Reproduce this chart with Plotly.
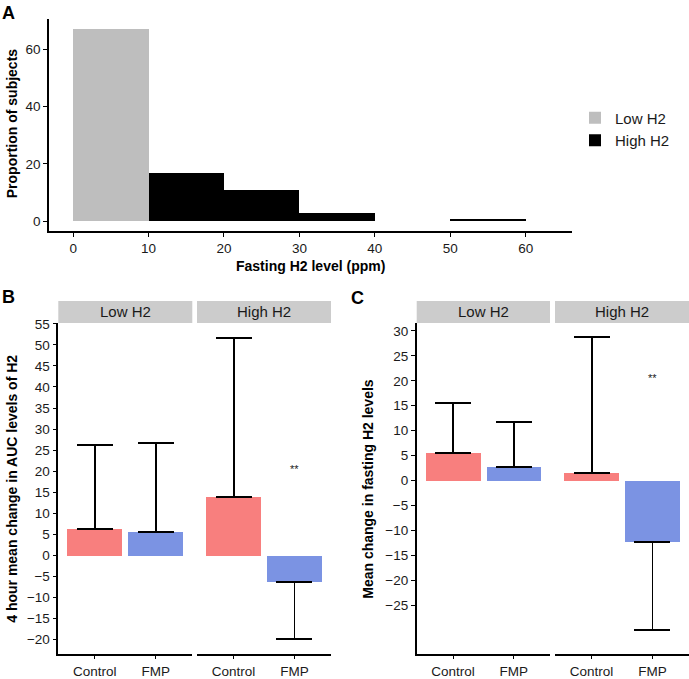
import plotly.graph_objects as go

W, H = 689, 679

# ---------------- data ----------------
# Panel A histogram (bins of 10 ppm)
hist_low_x = [5]
hist_low_y = [67.2]
hist_high_x = [15, 25, 35, 45, 55]
hist_high_y = [17, 11, 3, 0, 1]
hist_xticks = [0, 10, 20, 30, 40, 50, 60]
hist_yticks = [0, 20, 40, 60]

groups = ["Control", "FMP"]
facets = ["Low H2", "High H2"]

# Panel B: 4 hour mean change in AUC
B_low_mean = [6.2, 5.5]
B_low_sd = [20.0, 21.2]
B_high_mean = [13.9, -6.4]
B_high_sd = [37.8, 13.5]
B_yticks = list(range(-20, 56, 5))

# Panel C: mean change in fasting H2
C_low_mean = [5.6, 2.7]
C_low_sd = [9.9, 9.0]
C_high_mean = [1.5, -12.3]
C_high_sd = [27.2, 17.7]
C_yticks = list(range(-25, 31, 5))

sig_label = "**"
sig_y = 20.5

RED = "#F87F7E"
BLUE = "#7B93E3"
FONT = "Liberation Sans, Arial, sans-serif"


def px(x):
    return x / W


def py(y):
    return 1 - y / H


fig = go.Figure()

# ---------------- Panel A ----------------
fig.add_trace(go.Bar(x=hist_low_x, y=hist_low_y, width=10, name="Low H2",
                     marker=dict(color="#BEBEBE", line=dict(width=0)),
                     xaxis="x", yaxis="y"))
fig.add_trace(go.Bar(x=hist_high_x, y=hist_high_y, width=10, name="High H2",
                     marker=dict(color="#000000", line=dict(width=0)),
                     xaxis="x", yaxis="y"))


def err_arrays(means, sds):
    up = [s if m >= 0 else 0 for m, s in zip(means, sds)]
    dn = [s if m < 0 else 0 for m, s in zip(means, sds)]
    return up, dn


def add_facet_bars(means, sds, xa, ya):
    up, dn = err_arrays(means, sds)
    fig.add_trace(go.Bar(
        x=groups, y=means, width=0.9, showlegend=False,
        marker=dict(color=[RED, BLUE], line=dict(width=0)),
        error_y=dict(type="data", symmetric=False, array=up, arrayminus=dn,
                     color="black", thickness=1.9, width=18),
        xaxis=xa, yaxis=ya))


add_facet_bars(B_low_mean, B_low_sd, "x2", "y2")
add_facet_bars(B_high_mean, B_high_sd, "x3", "y3")
add_facet_bars(C_low_mean, C_low_sd, "x4", "y4")
add_facet_bars(C_high_mean, C_high_sd, "x5", "y5")

tickfont = dict(family=FONT, size=13.5, color="#1a1a1a")
axis_common = dict(showline=True, linecolor="black", linewidth=1.6,
                   ticks="outside", ticklen=4, tickwidth=1.4, tickcolor="black",
                   showgrid=False, zeroline=False, tickfont=tickfont)

# domains
A_x = [px(49), px(571.7)]
A_y = [py(228.3), py(13)]
F_y = [py(657.3), py(321.7)]
B_l = [px(58.3), px(192.3)]
B_r = [px(197), px(331)]
C_l = [px(416.7), px(550)]
C_r = [px(555), 1.0]

B_range = [-23.3, 55.2]
C_range = [-34.7, 31.6]
cat_range = [-0.6, 1.6]

fig.update_layout(
    xaxis=dict(domain=A_x, range=[-3.2, 66.1], anchor="y", tickvals=hist_xticks, **axis_common),
    yaxis=dict(domain=A_y, range=[-3.36, 70.6], anchor="x", tickvals=hist_yticks, **axis_common),
    xaxis2=dict(domain=B_l, range=cat_range, anchor="y2", type="category", **axis_common),
    yaxis2=dict(domain=F_y, range=B_range, anchor="x2", tickvals=B_yticks,
                ticktext=[str(v).replace("-", "\u2212") for v in B_yticks], **axis_common),
    xaxis3=dict(domain=B_r, range=cat_range, anchor="y3", type="category", **axis_common),
    yaxis3=dict(domain=F_y, range=B_range, anchor="x3", visible=False),
    xaxis4=dict(domain=C_l, range=cat_range, anchor="y4", type="category", **axis_common),
    yaxis4=dict(domain=F_y, range=C_range, anchor="x4", tickvals=C_yticks,
                ticktext=[str(v).replace("-", "\u2212") for v in C_yticks], **axis_common),
    xaxis5=dict(domain=C_r, range=cat_range, anchor="y5", type="category", **axis_common),
    yaxis5=dict(domain=F_y, range=C_range, anchor="x5", visible=False),
)

# strips
shapes = []
annotations = []
strip_y = [py(321.7), py(299.3)]
for dom, label in [(B_l, facets[0]), (B_r, facets[1]), (C_l, facets[0]), (C_r, facets[1])]:
    shapes.append(dict(type="rect", xref="paper", yref="paper",
                       x0=dom[0], x1=dom[1], y0=strip_y[0], y1=strip_y[1],
                       fillcolor="#CCCCCC", line=dict(width=0), layer="below"))
    annotations.append(dict(xref="paper", yref="paper", x=(dom[0] + dom[1]) / 2,
                            y=(strip_y[0] + strip_y[1]) / 2, text=label, showarrow=False,
                            xanchor="center", yanchor="middle",
                            font=dict(family=FONT, size=15, color="#1a1a1a")))

# significance stars
for xa, ya in [("x3", "y3"), ("x5", "y5")]:
    annotations.append(dict(xref=xa, yref=ya, x="FMP", y=sig_y, text=sig_label,
                            showarrow=False, font=dict(family=FONT, size=11, color="#1a1a1a")))

title_font = dict(family=FONT, size=14, color="black")
# axis titles
annotations.append(dict(xref="paper", yref="paper", x=px(310), y=py(264),
                        text="<b>Fasting H2 level (ppm)</b>", showarrow=False,
                        xanchor="center", yanchor="middle", font=title_font))
annotations.append(dict(xref="paper", yref="paper", x=px(12), y=py(119),
                        text="<b>Proportion of subjects</b>", showarrow=False, textangle=-90,
                        xanchor="center", yanchor="middle", font=title_font))
annotations.append(dict(xref="paper", yref="paper", x=px(12), y=py(490),
                        text="<b>4 hour mean change in AUC levels of H2</b>", showarrow=False,
                        textangle=-90, xanchor="center", yanchor="middle", font=title_font))
annotations.append(dict(xref="paper", yref="paper", x=px(368), y=py(490),
                        text="<b>Mean change in fasting H2 levels</b>", showarrow=False,
                        textangle=-90, xanchor="center", yanchor="middle", font=title_font))

# panel letters
for letter, (lx, ly) in [("A", (8, 7)), ("B", (8, 295)), ("C", (357, 296))]:
    annotations.append(dict(xref="paper", yref="paper", x=px(lx), y=py(ly),
                            text=f"<b>{letter}</b>", showarrow=False,
                            xanchor="center", yanchor="middle",
                            font=dict(family=FONT, size=18, color="black")))

fig.update_layout(
    shapes=shapes, annotations=annotations,
    width=W, height=H, autosize=False,
    margin=dict(l=0, r=0, t=0, b=0),
    paper_bgcolor="white", plot_bgcolor="white",
    barmode="overlay", bargap=0,
    font=dict(family=FONT, color="black"),
    showlegend=True,
    legend=dict(x=px(575), y=py(97), xanchor="left", yanchor="top",
                font=dict(family=FONT, size=15, color="#1a1a1a"),
                bgcolor="rgba(0,0,0,0)", tracegroupgap=0, itemwidth=30),
)

fig.write_html("out.html", config={"displayModeBar": False},
               post_script="document.body.style.margin='0';document.body.style.overflow='hidden';")
